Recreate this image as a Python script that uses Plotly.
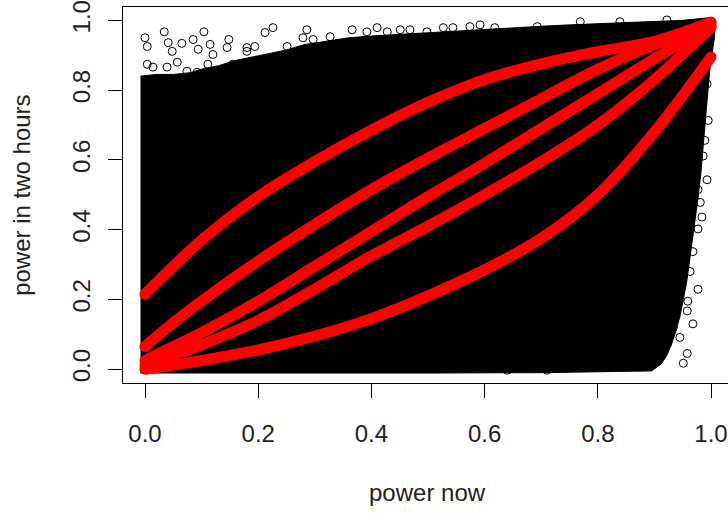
import plotly.graph_objects as go

# ---- data ----
# dense core of the scatter cloud (outline of the solid black region)
cloud_x = [-0.008, 0.02, 0.05, 0.08, 0.10, 0.13, 0.16, 0.19, 0.22, 0.25, 0.28, 0.32, 0.36, 0.40,
           0.45, 0.50, 0.55, 0.60, 0.65, 0.70, 0.75, 0.80, 0.85, 0.90, 0.95, 1.000, 1.008,
           1.006, 0.998, 0.992, 0.987, 0.982, 0.977, 0.972, 0.967, 0.962, 0.957, 0.951, 0.945,
           0.938, 0.930, 0.922, 0.912, 0.895, 0.70, 0.50, 0.0, -0.008]
cloud_y = [0.84, 0.845, 0.845, 0.85, 0.86, 0.87, 0.885, 0.895, 0.905, 0.915, 0.93, 0.94, 0.95, 0.955,
           0.96, 0.963, 0.97, 0.975, 0.98, 0.983, 0.987, 0.99, 0.993, 0.997, 1.0, 1.008, 1.0,
           0.95, 0.86, 0.75, 0.65, 0.56, 0.49, 0.43, 0.37, 0.31, 0.25, 0.20, 0.15,
           0.11, 0.07, 0.04, 0.015, -0.005, -0.01, -0.011, -0.011, -0.011]

# sparse points at the edge of the cloud
edge_x = [0.000, 0.004, 0.034, 0.041, 0.048, 0.065, 0.085, 0.094, 0.104, 0.115, 0.120, 0.148, 0.145,
          0.180, 0.057, 0.074, 0.111, 0.004, 0.014, 0.039, 0.155, 0.168, 0.092,
          0.212, 0.226, 0.286, 0.279, 0.297, 0.327, 0.366, 0.392, 0.410, 0.428, 0.451, 0.468,
          0.498, 0.527, 0.544, 0.574, 0.592, 0.180, 0.194, 0.251, 0.171, 0.186, 0.221, 0.261,
          0.618, 0.693, 0.769, 0.839, 0.922,
          0.993, 0.995, 0.989, 0.986, 0.993, 0.977,
          0.981, 0.984, 0.977, 0.968, 0.951, 0.963, 0.977, 0.959, 0.958, 0.968, 0.945, 0.892,
          0.933, 0.958, 0.951, 0.905, 0.887, 0.862, 0.839, 0.816, 0.781, 0.746, 0.710, 0.675,
          0.640, 0.615, 0.915, 0.922, 0.940]
edge_y = [0.950, 0.925, 0.967, 0.936, 0.911, 0.934, 0.945, 0.917, 0.967, 0.931, 0.902, 0.945, 0.922,
          0.911, 0.880, 0.854, 0.874, 0.874, 0.866, 0.866, 0.874, 0.860, 0.851,
          0.965, 0.979, 0.973, 0.950, 0.945, 0.953, 0.973, 0.967, 0.979, 0.967, 0.973, 0.973,
          0.967, 0.979, 0.979, 0.982, 0.987, 0.922, 0.925, 0.925, 0.846, 0.837, 0.818, 0.812,
          0.979, 0.982, 0.996, 0.996, 1.001,
          0.818, 0.713, 0.656, 0.611, 0.543, 0.515,
          0.478, 0.436, 0.402, 0.337, 0.308, 0.280, 0.229, 0.195, 0.167, 0.130, 0.091, 0.102,
          0.119, 0.045, 0.017, 0.025, 0.054, 0.017, 0.034, 0.006, 0.017, 0.003, -0.003, 0.006,
          -0.003, 0.003, 0.110, 0.158, 0.223]

# red fitted curves
curve_x = [0.0, 0.05, 0.1, 0.2, 0.3, 0.4, 0.5, 0.6, 0.7, 0.8, 0.9, 1.0]
curve_a = [0.215, 0.295, 0.37, 0.495, 0.595, 0.685, 0.765, 0.83, 0.875, 0.91, 0.94, 0.995]
curve_b = [0.065, 0.133, 0.195, 0.31, 0.415, 0.515, 0.605, 0.69, 0.775, 0.86, 0.93, 0.99]
curve_c = [0.025, 0.065, 0.105, 0.195, 0.295, 0.395, 0.495, 0.59, 0.69, 0.79, 0.89, 0.985]
curve_d = [0.01, 0.04, 0.07, 0.14, 0.23, 0.325, 0.41, 0.50, 0.595, 0.70, 0.83, 0.98]
curve_e = [0.0, 0.012, 0.025, 0.055, 0.095, 0.145, 0.21, 0.285, 0.375, 0.50, 0.68, 0.895]

tick_vals = [0.0, 0.2, 0.4, 0.6, 0.8, 1.0]
tick_text = ["0.0", "0.2", "0.4", "0.6", "0.8", "1.0"]

FONT = "Liberation Sans, Arial, sans-serif"

fig = go.Figure()
fig.add_trace(go.Scatter(x=cloud_x, y=cloud_y, mode="lines", fill="toself",
                         fillcolor="black", line=dict(color="black", width=1),
                         hoverinfo="skip", showlegend=False))
fig.add_trace(go.Scatter(x=edge_x, y=edge_y, mode="markers",
                         marker=dict(symbol="circle-open", size=8, color="black",
                                     line=dict(width=1, color="black")),
                         showlegend=False))
for cy in [curve_a, curve_b, curve_c, curve_d, curve_e]:
    fig.add_trace(go.Scatter(x=curve_x, y=cy, mode="lines",
                             line=dict(color="#ff0000", width=11, shape="spline", smoothing=1.0),
                             showlegend=False))
    fig.add_trace(go.Scatter(x=[curve_x[0], curve_x[-1]], y=[cy[0], cy[-1]], mode="markers",
                             marker=dict(color="#ff0000", size=11),
                             showlegend=False))

axis_common = dict(showgrid=False, zeroline=False, showline=True, linecolor="black", linewidth=1,
                   ticks="outside", ticklen=14, tickwidth=1, tickcolor="black",
                   tickvals=tick_vals, ticktext=tick_text, ticklabeloverflow="allow",
                   tickfont=dict(family=FONT, size=24, color="#222"))

fig.update_layout(
    width=728, height=513,
    margin=dict(l=123, r=0, t=2, b=130),
    paper_bgcolor="white", plot_bgcolor="white",
    xaxis=dict(range=[-0.0389, 1.030], mirror=True, ticklabelstandoff=15, **axis_common),
    yaxis=dict(range=[-0.0396, 1.0382], mirror=False, tickangle=-90, ticklabelstandoff=8, **axis_common),
    annotations=[
        dict(text="power now", xref="paper", yref="paper", x=0.504, y=-0.2913,
             xanchor="center", yanchor="middle", showarrow=False,
             font=dict(family=FONT, size=24, color="#222")),
        dict(text="power in two hours", xref="paper", yref="paper", x=-0.168, y=0.4987,
             xanchor="center", yanchor="middle", showarrow=False, textangle=-90,
             font=dict(family=FONT, size=24, color="#222")),
    ],
)

fig.write_html("out.html", config={"displayModeBar": False},
               post_script="document.body.style.margin='0';document.body.style.overflow='hidden';")
